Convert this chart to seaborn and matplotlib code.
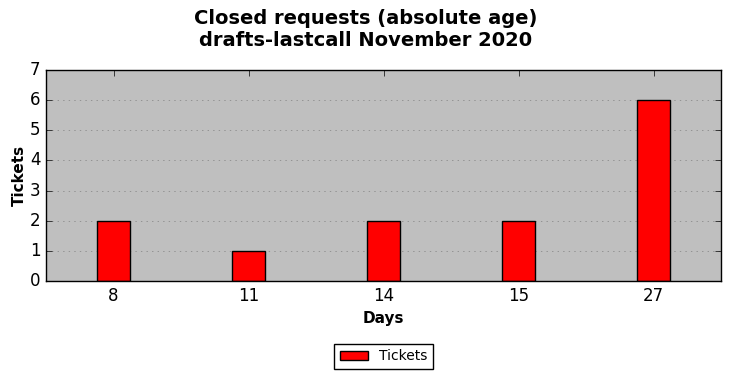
import matplotlib
matplotlib.use('Agg')
import matplotlib.pyplot as plt
import seaborn as sns
import pandas as pd

# dados do gráfico
days = ['8', '11', '14', '15', '27']
tickets = [2, 1, 2, 2, 6]

df = pd.DataFrame({'Days': days, 'Tickets': tickets})

plt.style.use('classic')
fig = plt.figure(figsize=(7.31, 3.78), dpi=100)
fig.patch.set_facecolor('white')
ax = fig.add_axes([46 / 731, 1 - 281 / 378, 675 / 731, 211 / 378])
ax.set_facecolor('#bfbfbf')

sns.barplot(data=df, x='Days', y='Tickets', order=days, color='red',
            saturation=1, width=0.25, edgecolor='black', linewidth=1,
            label='Tickets', ax=ax)

ax.set_xlim(-0.5, 4.5)
ax.set_ylim(0, 7)
ax.set_yticks(range(8))
ax.yaxis.grid(True, linestyle=':', color='#808080')
ax.xaxis.grid(False)
ax.set_axisbelow(True)
ax.tick_params(axis='both', labelsize=12, direction='in', top=True, right=True)
ax.set_xlabel('Days', fontweight='bold', fontsize=11)
ax.set_ylabel('Tickets', fontweight='bold', fontsize=11, labelpad=2)

fig.suptitle('Closed requests (absolute age)\ndrafts-lastcall November 2020',
             fontweight='bold', fontsize=14, y=0.977)

ax.legend(loc='upper center', bbox_to_anchor=(0.5, -0.265), fontsize=10,
          frameon=True, fancybox=False)

fig.savefig('out.png', dpi=100)
